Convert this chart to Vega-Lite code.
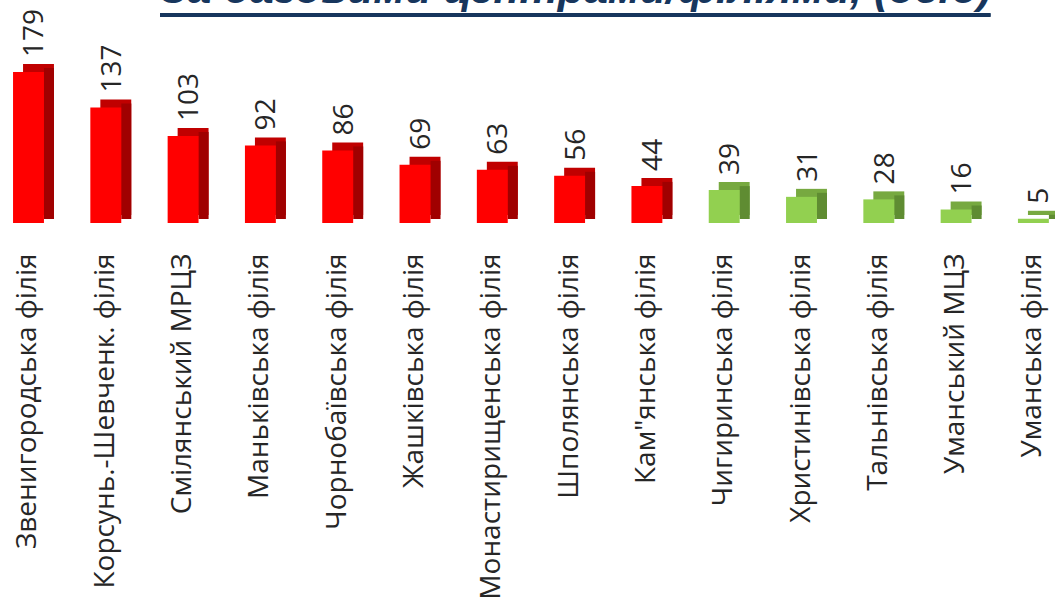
{
  "$schema": "https://vega.github.io/schema/vega-lite/v6.json",
  "width": 1055,
  "height": 223,
  "autosize": {"type": "none"},
  "padding": {"left": 0, "top": 0, "right": 0, "bottom": 380},
  "background": "white",
  "title": {
    "text": "За  базовими центрами/філіями, (осіб)",
    "font": "Liberation Sans",
    "fontSize": 43,
    "fontWeight": "bold",
    "fontStyle": "italic",
    "color": "#17365D",
    "anchor": "middle",
    "frame": "group",
    "dx": 48,
    "dy": 46,
    "baseline": "alphabetic",
    "offset": 0
  },
  "data": {
    "values": [
      {"name": "Звенигородська філія", "value": 179, "group": "high"},
      {"name": "Корсунь.-Шевченк. філія", "value": 137, "group": "high"},
      {"name": "Смілянський МРЦЗ", "value": 103, "group": "high"},
      {"name": "Маньківська філія", "value": 92, "group": "high"},
      {"name": "Чорнобаївська філія", "value": 86, "group": "high"},
      {"name": "Жашківська філія", "value": 69, "group": "high"},
      {"name": "Монастирищенська філія", "value": 63, "group": "high"},
      {"name": "Шполянська філія", "value": 56, "group": "high"},
      {"name": "Кам\"янська філія", "value": 44, "group": "high"},
      {"name": "Чигиринська філія", "value": 39, "group": "low"},
      {"name": "Христинівська філія", "value": 31, "group": "low"},
      {"name": "Тальнівська філія", "value": 28, "group": "low"},
      {"name": "Уманський МЦЗ", "value": 16, "group": "low"},
      {"name": "Уманська філія", "value": 5, "group": "low"}
    ]
  },
  "encoding": {
    "x": {
      "field": "name",
      "type": "nominal",
      "sort": null,
      "scale": {"paddingInner": 0.6, "paddingOuter": 0.124, "align": 0.68},
      "axis": {
        "title": null,
        "labelAngle": -90,
        "labelFont": "Open Sans",
        "labelFontSize": 28,
        "labelColor": "#262626",
        "labelPadding": 30,
        "labelLimit": 500,
        "domain": false,
        "ticks": false,
        "grid": false
      }
    },
    "y": {
      "field": "value",
      "type": "quantitative",
      "scale": {"domain": [0, 264.3], "nice": false, "zero": true},
      "axis": null
    }
  },
  "layer": [
    {
      "mark": {"type": "bar", "xOffset": 10, "yOffset": -8, "y2Offset": -8},
      "encoding": {
        "color": {
          "field": "group",
          "type": "nominal",
          "scale": {"domain": ["high", "low"], "range": ["#C00000", "#77A940"]},
          "legend": null
        }
      }
    },
    {
      "mark": {"type": "bar", "width": 10, "xOffset": 20.5, "yOffset": -4, "y2Offset": -4},
      "encoding": {
        "color": {
          "field": "group",
          "type": "nominal",
          "scale": {"domain": ["high", "low"], "range": ["#A00000", "#5F8C32"]},
          "legend": null
        }
      }
    },
    {
      "mark": {"type": "bar"},
      "encoding": {
        "color": {
          "field": "group",
          "type": "nominal",
          "scale": {"domain": ["high", "low"], "range": ["#FF0000", "#92D050"]},
          "legend": null
        }
      }
    },
    {
      "mark": {
        "type": "text",
        "angle": 270,
        "align": "left",
        "baseline": "middle",
        "dx": 15,
        "dy": 7,
        "font": "Open Sans",
        "fontSize": 28,
        "color": "#262626"
      },
      "encoding": {
        "text": {"field": "value", "type": "quantitative"}
      }
    },
    {
      "mark": {"type": "rule", "color": "#17365D", "strokeWidth": 3.5, "xOffset": -23, "x2Offset": 34},
      "encoding": {
        "x": {"datum": "Смілянський МРЦЗ"},
        "x2": {"datum": "Уманський МЦЗ"},
        "y": {"datum": 246.5}
      }
    }
  ],
  "resolve": {"scale": {"color": "independent"}},
  "config": {"view": {"stroke": null}}
}
